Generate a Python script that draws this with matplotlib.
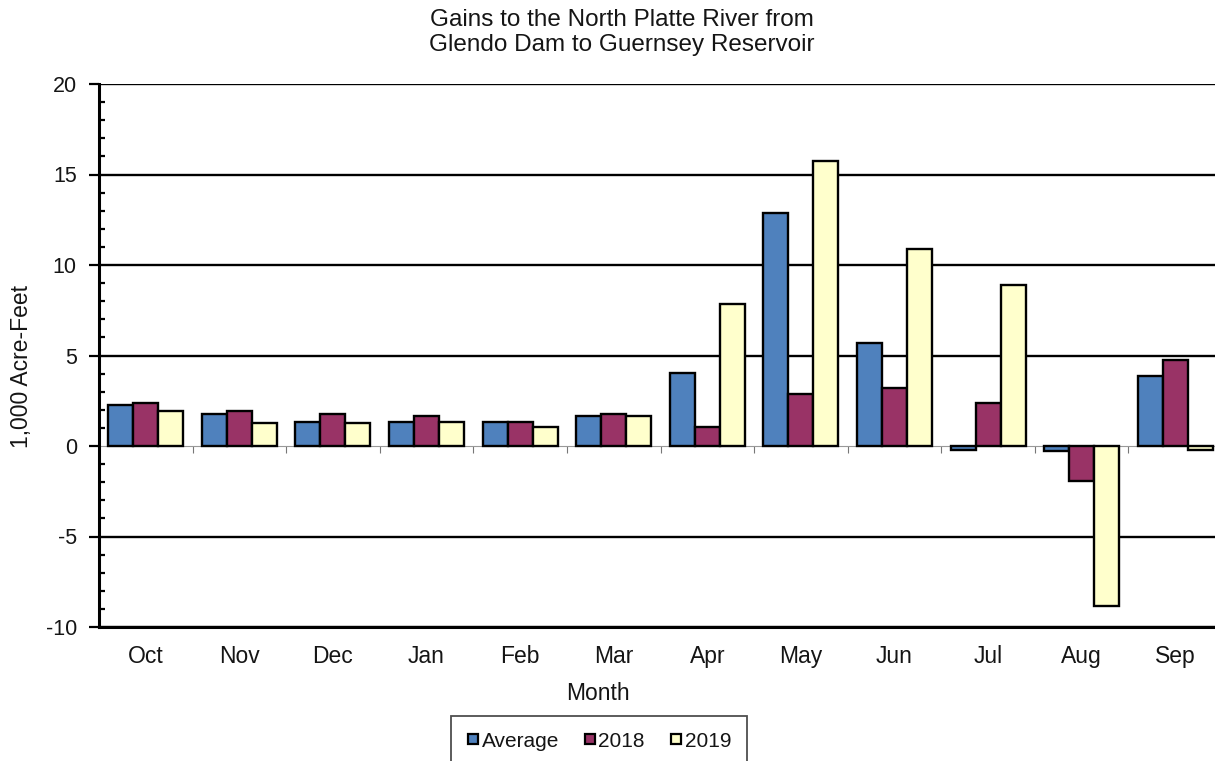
import numpy as np
import matplotlib
matplotlib.use("Agg")
import matplotlib.pyplot as plt
from matplotlib.lines import Line2D
from matplotlib.ticker import MultipleLocator

plt.rcParams["font.family"] = ["Liberation Sans", "DejaVu Sans"]
plt.rcParams["axes.unicode_minus"] = False

months = ["Oct", "Nov", "Dec", "Jan", "Feb", "Mar", "Apr", "May", "Jun", "Jul", "Aug", "Sep"]
series_names = ["Average", "2018", "2019"]
average = [2.26, 1.77, 1.33, 1.33, 1.33, 1.66, 4.03, 12.9, 5.71, -0.2, -0.3, 3.87]
y2018 = [2.36, 1.93, 1.77, 1.66, 1.33, 1.77, 1.07, 2.86, 3.22, 2.36, -1.93, 4.75]
y2019 = [1.93, 1.27, 1.27, 1.33, 1.05, 1.66, 7.84, 15.75, 10.87, 8.88, -8.82, -0.22]
colors = ["#4F81BD", "#993366", "#FFFFCC"]
text_color = "#151515"

W, H = 1215, 761
fig = plt.figure(figsize=(W / 100, H / 100), dpi=100)
ax = fig.add_axes([99 / W, 1 - 627 / H, (1222 - 99) / W, (627 - 84) / H])

x = np.arange(len(months))
bw = 0.267
for i, (vals, c) in enumerate(zip([average, y2018, y2019], colors)):
    ax.bar(x + (i - 1) * bw, vals, width=bw, color=c, edgecolor="black",
           linewidth=1.7, zorder=2)

ax.set_xlim(-0.5, len(months) - 0.5)
ax.set_ylim(-10, 20)
ax.yaxis.set_major_locator(MultipleLocator(5))
ax.yaxis.set_minor_locator(MultipleLocator(1))

# horizontal grid lines at the major ticks, except the zero line
for v in ax.get_yticks():
    if v != 0 and -10 <= v <= 20:
        ax.axhline(v, color="black", linewidth=1.7, zorder=0.5)

# thin category axis running along zero with boundary ticks
sec = ax.secondary_xaxis(0, transform=ax.transData)
sec.set_xticks(np.arange(len(months) - 1) + 0.5)
sec.tick_params(axis="x", direction="out", length=5, width=0.8, color="#777777",
                labelbottom=False)
sec.spines["bottom"].set_color("#999999")
sec.spines["bottom"].set_linewidth(0.8)
sec.set_zorder(0.6)

ax.set_xticks(x)
ax.set_xticklabels(months)
ax.tick_params(axis="x", length=0, pad=13, labelsize=16.5, labelcolor=text_color)
ax.tick_params(axis="y", which="major", direction="out", length=7, width=1.6,
               pad=9, labelsize=15.5, labelcolor=text_color)
ax.tick_params(axis="y", which="minor", direction="in", length=4, width=1.6)

for s in ["top", "right"]:
    ax.spines[s].set_visible(False)
ax.spines["left"].set_linewidth(2.2)
ax.spines["bottom"].set_linewidth(2.2)

fig.text(622 / W, 1 - 9 / H,
         "Gains to the North Platte River from\nGlendo Dam to Guernsey Reservoir",
         ha="center", va="top", fontsize=17.5, linespacing=1.2, color=text_color)
fig.text(22 / W, 1 - 366 / H, "1,000 Acre-Feet", rotation=90, ha="center",
         va="center", fontsize=16.5, color=text_color)
fig.text(598 / W, 1 - 693 / H, "Month", ha="center", va="center", fontsize=16.5,
         color=text_color)

handles = [Line2D([], [], linestyle="none", marker="s", markersize=7.5,
                  markerfacecolor=c, markeredgecolor="black", markeredgewidth=1.6)
           for c in colors]
leg = fig.legend(handles, series_names, loc="upper center",
                 bbox_to_anchor=(599 / W, 1 - 716 / H), ncol=3, frameon=True,
                 fancybox=False, edgecolor="#222222", fontsize=15,
                 handlelength=0.6, handletextpad=0.1, columnspacing=1.2,
                 borderpad=0.75, borderaxespad=0)
leg.get_frame().set_linewidth(1.3)
for t in leg.get_texts():
    t.set_color(text_color)

fig.savefig("out.png", dpi=100)
